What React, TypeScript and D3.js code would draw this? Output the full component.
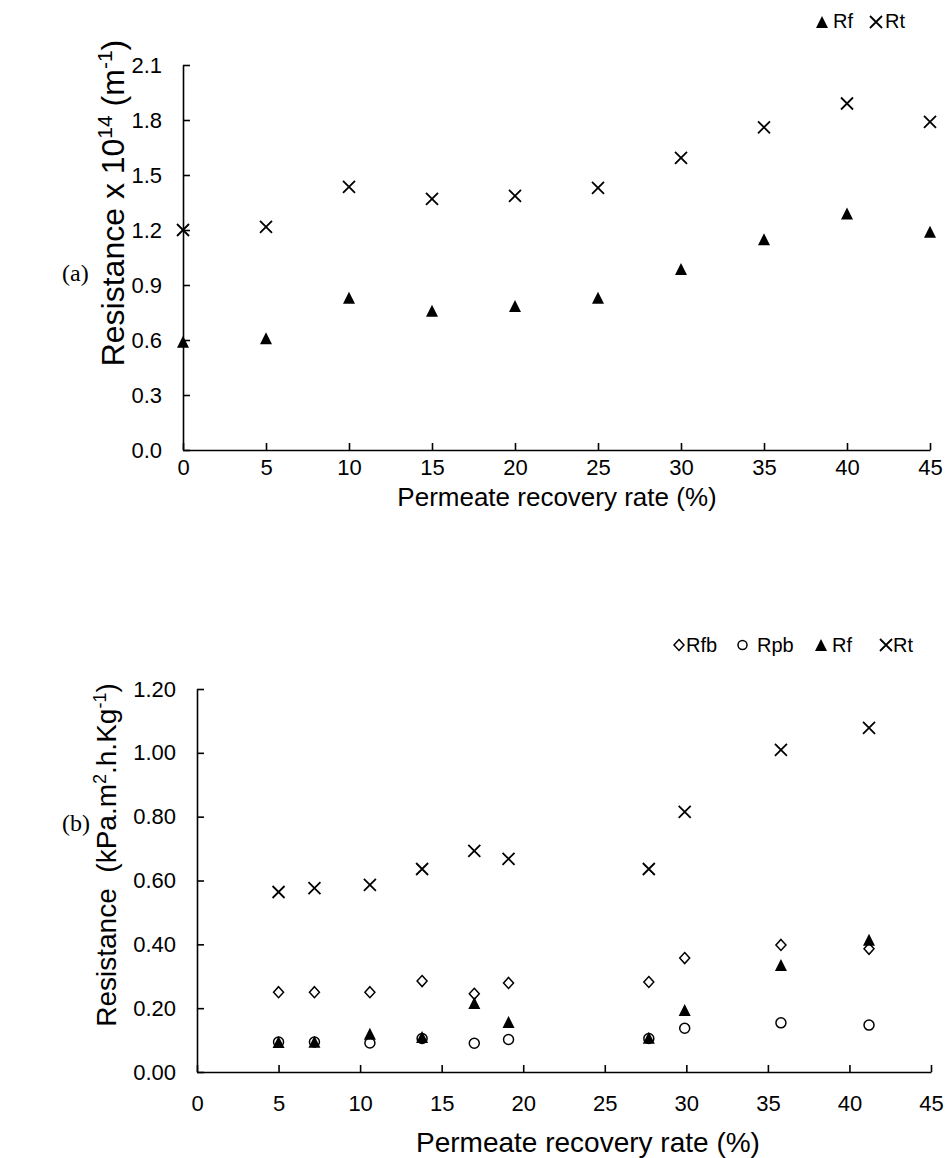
import React, { useEffect, useRef } from 'react';
import * as d3 from 'd3';

const xTicks = [0, 5, 10, 15, 20, 25, 30, 35, 40, 45];

// panel (a): resistance x 10^14 (m-1)
const aRate = [0, 5, 10, 15, 20, 25, 30, 35, 40, 45];
const aRf = [0.59, 0.61, 0.83, 0.76, 0.786, 0.83, 0.987, 1.15, 1.29, 1.19];
const aRt = [1.2, 1.217, 1.435, 1.37, 1.386, 1.43, 1.593, 1.76, 1.89, 1.79];
const aYTicks = [0, 0.3, 0.6, 0.9, 1.2, 1.5, 1.8, 2.1];

// panel (b): resistance (kPa.m2.h.Kg-1)
const bRate = [5.0, 7.2, 10.6, 13.8, 17.0, 19.1, 27.7, 29.9, 35.8, 41.2];
const bRfb = [0.25, 0.25, 0.25, 0.285, 0.245, 0.279, 0.282, 0.357, 0.398, 0.386];
const bRpb = [0.094, 0.094, 0.091, 0.105, 0.09, 0.102, 0.105, 0.137, 0.154, 0.147];
const bRf = [0.094, 0.095, 0.12, 0.11, 0.216, 0.157, 0.107, 0.194, 0.335, 0.414];
const bRt = [0.564, 0.576, 0.586, 0.636, 0.693, 0.668, 0.636, 0.815, 1.009, 1.078];
const bYTicks = [0, 0.2, 0.4, 0.6, 0.8, 1.0, 1.2];

type Marker = 'triangle' | 'cross' | 'diamond' | 'circle';
type G = d3.Selection<SVGGElement, unknown, null, undefined>;

const FONT = '"Liberation Sans", Arial, sans-serif';
const SERIF = '"Liberation Serif", "Times New Roman", serif';

const drawMarker = (g: G, kind: Marker, cx: number, cy: number, s = 1) => {
  if (kind === 'triangle') {
    g.append('path')
      .attr('d', `M${cx},${cy - 6 * s}L${cx + 6 * s},${cy + 6 * s}L${cx - 6 * s},${cy + 6 * s}Z`)
      .attr('fill', '#000');
  } else if (kind === 'cross') {
    const h = 6 * s;
    g.append('path')
      .attr('d', `M${cx - h},${cy - h}L${cx + h},${cy + h}M${cx - h},${cy + h}L${cx + h},${cy - h}`)
      .attr('stroke', '#000')
      .attr('stroke-width', 1.8)
      .attr('fill', 'none');
  } else if (kind === 'diamond') {
    g.append('path')
      .attr('d', `M${cx},${cy - 5.5 * s}L${cx + 5 * s},${cy}L${cx},${cy + 5.5 * s}L${cx - 5 * s},${cy}Z`)
      .attr('stroke', '#000')
      .attr('stroke-width', 1.5)
      .attr('fill', '#fff');
  } else {
    g.append('circle')
      .attr('cx', cx)
      .attr('cy', cy)
      .attr('r', 5 * s)
      .attr('stroke', '#000')
      .attr('stroke-width', 1.5)
      .attr('fill', '#fff');
  }
};

interface PanelSpec {
  xRange: [number, number];
  yRange: [number, number];
  yMax: number;
  yTicks: number[];
  yFmt: string;
  xPad: number;
  tickFont: number;
}

const drawAxes = (g: G, p: PanelSpec) => {
  const x = d3.scaleLinear().domain([0, 45]).range(p.xRange);
  const y = d3.scaleLinear().domain([0, p.yMax]).range(p.yRange);

  const yAxis = d3.axisLeft(y)
    .tickValues(p.yTicks)
    .tickFormat(d3.format(p.yFmt) as any)
    .tickSizeInner(-7)
    .tickSizeOuter(0)
    .tickPadding(21);
  const xAxis = d3.axisBottom(x)
    .tickValues(xTicks)
    .tickFormat(d3.format('d') as any)
    .tickSizeInner(-7)
    .tickSizeOuter(0)
    .tickPadding(p.xPad);

  const gy = g.append('g').attr('transform', `translate(${p.xRange[0]},0)`).call(yAxis);
  const gx = g.append('g').attr('transform', `translate(0,${p.yRange[0]})`).call(xAxis);
  [gx, gy].forEach(ax => {
    ax.selectAll('path.domain').attr('stroke', '#000').attr('stroke-width', 1.6);
    ax.selectAll('line').attr('stroke', '#000').attr('stroke-width', 1.6);
    ax.selectAll('text')
      .attr('fill', '#000')
      .style('font-family', FONT)
      .style('font-size', `${p.tickFont}px`);
  });
  return { x, y };
};

export default function App() {
  const ref = useRef<SVGSVGElement>(null);

  useEffect(() => {
    if (!ref.current) return;
    const svg = d3.select(ref.current);
    svg.selectAll('*').remove();
    const root = svg.append('g') as G;

    // ---------- panel (a) ----------
    const ga = root.append('g') as G;
    const a = drawAxes(ga, {
      xRange: [183, 930], yRange: [450, 65], yMax: 2.1, yTicks: aYTicks,
      yFmt: '.1f', xPad: 9, tickFont: 22
    });
    aRate.forEach((r, i) => drawMarker(ga, 'triangle', a.x(r), a.y(aRf[i])));
    aRate.forEach((r, i) => drawMarker(ga, 'cross', a.x(r), a.y(aRt[i])));

    ga.append('text')
      .attr('x', 557).attr('y', 506)
      .attr('text-anchor', 'middle')
      .style('font-family', FONT).style('font-size', '26px')
      .text('Permeate recovery rate (%)');

    const ta = ga.append('text')
      .attr('transform', 'translate(124,203) rotate(-90)')
      .attr('text-anchor', 'middle')
      .style('font-family', FONT).style('font-size', '32px');
    ta.append('tspan').text('Resistance x 10');
    ta.append('tspan').attr('dy', -12).style('font-size', '21px').text('14');
    ta.append('tspan').attr('dy', 12).text(' (m');
    ta.append('tspan').attr('dy', -12).style('font-size', '21px').text('-1');
    ta.append('tspan').attr('dy', 12).text(')');

    // legend (a)
    drawMarker(ga, 'triangle', 822, 22);
    ga.append('text').attr('x', 833).attr('y', 28)
      .style('font-family', FONT).style('font-size', '20px').text('Rf');
    drawMarker(ga, 'cross', 876, 22);
    ga.append('text').attr('x', 885).attr('y', 28)
      .style('font-family', FONT).style('font-size', '20px').text('Rt');

    ga.append('text').attr('x', 62).attr('y', 281)
      .style('font-family', SERIF)
      .style('font-size', '24px').text('(a)');

    // ---------- panel (b) ----------
    const gb = root.append('g') as G;
    const b = drawAxes(gb, {
      xRange: [197, 931], yRange: [1072, 689], yMax: 1.2, yTicks: bYTicks,
      yFmt: '.2f', xPad: 23, tickFont: 22
    });
    bRate.forEach((r, i) => drawMarker(gb, 'diamond', b.x(r), b.y(bRfb[i])));
    bRate.forEach((r, i) => drawMarker(gb, 'circle', b.x(r), b.y(bRpb[i])));
    bRate.forEach((r, i) => drawMarker(gb, 'triangle', b.x(r), b.y(bRf[i])));
    bRate.forEach((r, i) => drawMarker(gb, 'cross', b.x(r), b.y(bRt[i])));

    gb.append('text')
      .attr('x', 588).attr('y', 1152)
      .attr('text-anchor', 'middle')
      .style('font-family', FONT).style('font-size', '28px')
      .text('Permeate recovery rate (%)');

    const tb = gb.append('text')
      .attr('transform', 'translate(116,855) rotate(-90)')
      .attr('text-anchor', 'middle')
      .style('font-family', FONT).style('font-size', '28px');
    tb.append('tspan').text('Resistance\u00a0 (kPa.m');
    tb.append('tspan').attr('dy', -10).style('font-size', '18px').text('2');
    tb.append('tspan').attr('dy', 10).text('.h.Kg');
    tb.append('tspan').attr('dy', -10).style('font-size', '18px').text('-1');
    tb.append('tspan').attr('dy', 10).text(')');

    // legend (b)
    const legB: [Marker, string, number, number][] = [
      ['diamond', 'Rfb', 679, 686],
      ['circle', 'Rpb', 742.5, 757],
      ['triangle', 'Rf', 821, 832],
      ['cross', 'Rt', 886, 893]
    ];
    legB.forEach(([m, label, mx, tx]) => {
      drawMarker(gb, m, mx, 645, m === 'circle' ? 0.9 : 1);
      gb.append('text').attr('x', tx).attr('y', 652)
        .style('font-family', FONT).style('font-size', '20px').text(label);
    });

    gb.append('text').attr('x', 62).attr('y', 831)
      .style('font-family', SERIF)
      .style('font-size', '24px').text('(b)');
  }, []);

  return (
    <svg
      ref={ref}
      width={945}
      height={1158}
      style={{ position: 'absolute', left: 0, top: 0, background: '#fff' }}
    />
  );
}
